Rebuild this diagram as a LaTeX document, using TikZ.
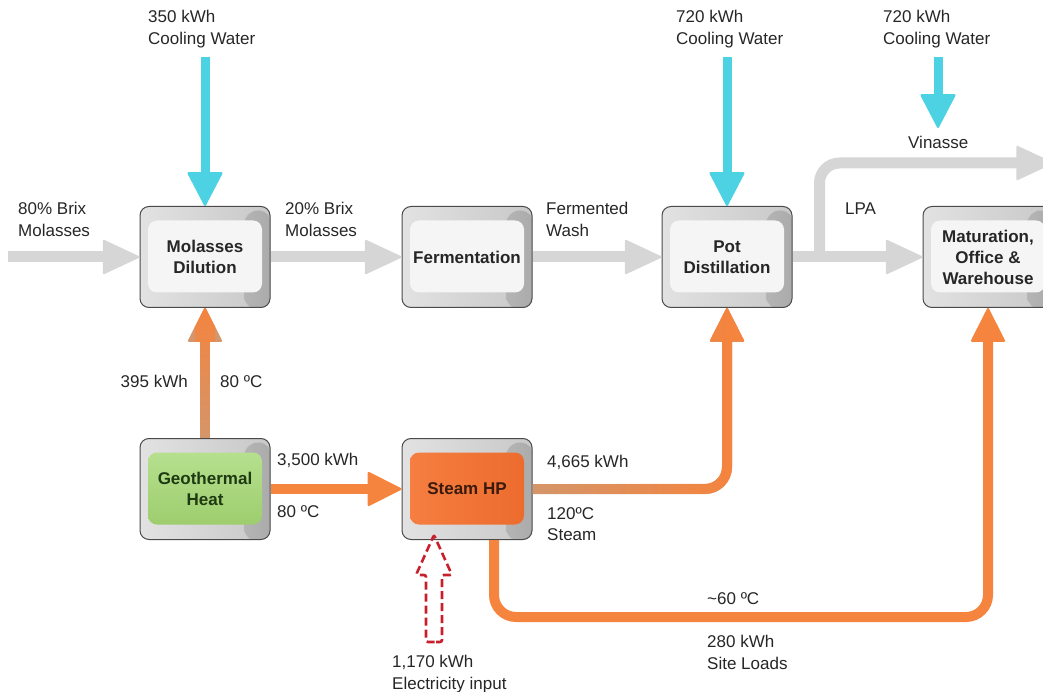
\documentclass[tikz,border=0pt]{standalone}
\usepackage{fontspec}
\setmainfont{Liberation Sans}
\usetikzlibrary{arrows.meta,calc,fadings}
\definecolor{flowgray}{HTML}{D6D6D6}
\definecolor{coolcyan}{HTML}{4CD2E2}
\definecolor{heatorange}{HTML}{F5843E}
\definecolor{heattan}{HTML}{D4966C}
\definecolor{elecred}{HTML}{C8202A}
\definecolor{boxedge}{HTML}{4A4A4A}
\definecolor{boxlight}{HTML}{E2E2E2}
\definecolor{boxmid}{HTML}{EAEAEA}
\definecolor{boxdark}{HTML}{C8C8C8}
\definecolor{stripL}{HTML}{DCDCDC}
\definecolor{stripR}{HTML}{AAAAAA}
\definecolor{innerlight}{HTML}{F5F5F5}
\definecolor{greentop}{HTML}{B6E08E}
\definecolor{greenbot}{HTML}{9ECD6E}
\definecolor{orangeL}{HTML}{F57E40}
\definecolor{orangeR}{HTML}{EC6C2E}
\definecolor{labeltext}{HTML}{262626}
\definecolor{greentext}{HTML}{1E3A12}
\definecolor{hptext}{HTML}{3A1A0C}
\begin{document}
\begin{tikzpicture}[x=1pt,y=-1pt,
  procbox/.style={draw=boxedge, line width=1pt, rounded corners=9pt,
    minimum width=130pt, minimum height=101pt, inner sep=0pt,
    left color=boxlight, middle color=boxmid, right color=boxdark,
    align=center, font=\bfseries\fontsize{17}{21}\selectfont, text=labeltext,
    path picture={
      \shade[left color=stripL, right color=stripR, rounded corners=14pt]
        ([xshift=-26pt,yshift=-4pt]path picture bounding box.north east) rectangle
        ([xshift=2pt,yshift=-2pt]path picture bounding box.south east);
      \path[#1, rounded corners=9pt]
      ([xshift=8pt,yshift=-14pt]path picture bounding box.north west) rectangle
      ([xshift=-8pt,yshift=15pt]path picture bounding box.south east);}},
  procbox/.default={fill=innerlight},
  lbl/.style={anchor=north west, inner sep=0pt, align=left,
    font=\fontsize{17}{21.5}\selectfont, text=labeltext},
  flow/.style={draw=flowgray, line width=11pt, -{Triangle[length=38pt,width=35pt,round,line width=2pt]}},
  cool/.style={draw=coolcyan, line width=9pt, -{Triangle[length=35pt,width=36pt,round,line width=2pt]}},
  heat/.style={draw=#1, line width=10pt, -{Triangle[length=35pt,width=35pt,round,line width=2pt]}},
  heat/.default=heatorange,
  elec/.style={draw=elecred, line width=2.6pt, dash pattern=on 8pt off 4pt, rounded corners=2pt}
]
\path[use as bounding box, clip] (0,0) rectangle (1043,692);

% process boxes
\node[procbox] (mol) at (205,257) {Molasses\\Dilution};
\node[procbox] (fer) at (467,257) {Fermentation};
\node[procbox] (pot) at (727,257) {Pot\\Distillation};
\node[procbox] (mat) at (988,257) {Maturation,\\Office \&\\Warehouse};
\node[procbox={top color=greentop, bottom color=greenbot}, text=greentext] (geo) at (205,489) {Geothermal\\Heat};
\node[procbox={left color=orangeL, right color=orangeR}, text=hptext] (hp) at (467,489) {Steam HP};

% free ends
\coordinate (molin) at (8,257);
\coordinate (cw1) at (205,57);
\coordinate (cw2) at (727,57);
\coordinate (cw3) at (938,57);
\coordinate (cw3end) at (938,128);
\coordinate (vinend) at (1053,163);
\coordinate (elecin) at (434,642);
\coordinate (eltip) at (434,535);
\coordinate (sitecorner) at (988,617);

% gray product flow
\draw[flow] (molin) -- (mol.west);
\draw[flow] (mol.east) -- (fer.west);
\draw[flow] (fer.east) -- (pot.west);
\draw[flow] (pot.east) -- (mat.west);
\draw[flow, rounded corners=20pt] ([xshift=27pt]pot.east) |- (vinend);

% cooling water
\draw[cool] (cw1) -- (mol.north);
\draw[cool] (cw2) -- (pot.north);
\draw[cool] (cw3) -- (cw3end);

% heat
\draw[heat=heattan] (geo.north) -- (mol.south);
\draw[heat, path fading=south] (geo.north) -- (mol.south);
\draw[heat] (geo.east) -- (hp.west);
\draw[heat=heattan, rounded corners=22pt] (hp.east) -| (pot.south);
\draw[heat, rounded corners=22pt, path fading=west] (hp.east) -| (pot.south);
\draw[heat, rounded corners=22pt] ([xshift=27pt]hp.south) |- (sitecorner) -- (mat.south);

% electricity input (hollow dashed arrow)
\draw[elec] (elecin) -- ++(8,0) -- ++(0,-67) -- ++(10,0) -- (eltip)
  -- ++(-18,40) -- ++(10,0) -- ++(0,67) -- cycle;

% labels
\node[lbl] (l1) at (148,10) {350 kWh\\Cooling Water};
\node[lbl] (l2) at (676,10) {720 kWh\\Cooling Water};
\node[lbl] (l3) at (883,10) {720 kWh\\Cooling Water};
\node[lbl] (l4) at (18,202) {80\% Brix\\Molasses};
\node[lbl] (l5) at (285,202) {20\% Brix\\Molasses};
\node[lbl] (l6) at (546,202) {Fermented\\Wash};
\node[lbl] (l7) at (908,136) {Vinasse};
\node[lbl] (l8) at (845,203) {LPA};
\node[lbl, anchor=north east] (l9) at (188,375) {395 kWh};
\node[lbl] (l10) at (220,375) {80 ºC};
\node[lbl] (l11) at (277,453) {3,500 kWh};
\node[lbl] (l12) at (277,505) {80 ºC};
\node[lbl] (l13) at (547,455) {4,665 kWh};
\node[lbl] (l14) at (547,507) {120ºC\\Steam};
\node[lbl] (l15) at (707,592) {\textasciitilde 60 ºC};
\node[lbl] (l16) at (707,635) {280 kWh\\Site Loads};
\node[lbl] (l17) at (392,655) {1,170 kWh\\Electricity input};
\end{tikzpicture}
\end{document}
